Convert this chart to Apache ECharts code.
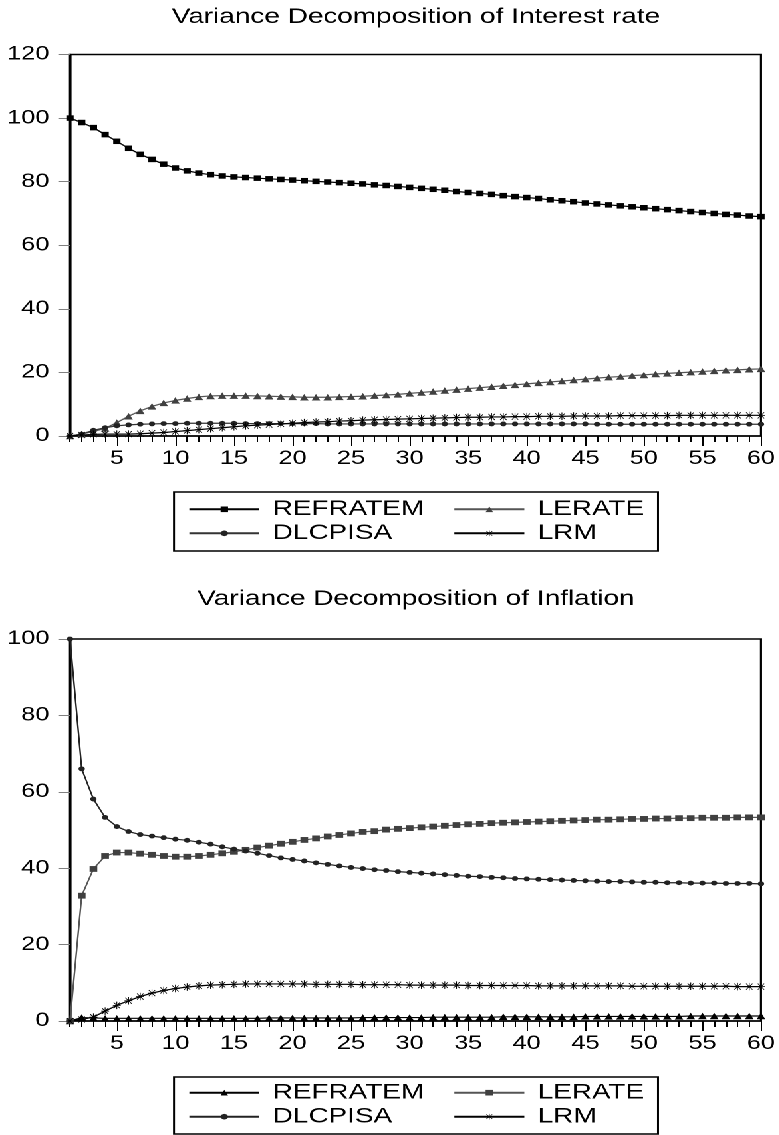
<!DOCTYPE html>
<html>
<head>
<meta charset="utf-8">
<script src="https://cdn.jsdelivr.net/npm/echarts@6/dist/echarts.min.js"></script>
<style>
html, body { margin: 0; padding: 0; background: #fff; overflow: hidden; }
/* the source picture is stretched sideways, so draw narrow and widen */
#wrap { width: 586px; height: 1135px; transform: scaleX(1.33); transform-origin: 0 0; }
#top { width: 586px; height: 570px; }
#bottom { width: 586px; height: 565px; }
</style>
</head>
<body>
<div id="wrap"><div id="top"></div><div id="bottom"></div></div>
<script>
const periods = ['1','2','3','4','5','6','7','8','9','10','11','12','13','14','15','16','17','18','19','20',
  '21','22','23','24','25','26','27','28','29','30','31','32','33','34','35','36','37','38','39','40',
  '41','42','43','44','45','46','47','48','49','50','51','52','53','54','55','56','57','58','59','60'];

// Variance Decomposition of Interest rate
const rateRefratem = [100, 98.6, 97.0, 94.8, 92.7, 90.5, 88.6, 87.0, 85.5, 84.3,
  83.4, 82.7, 82.2, 81.8, 81.5, 81.3, 81.1, 80.9, 80.7, 80.5,
  80.3, 80.1, 79.9, 79.7, 79.5, 79.3, 79.0, 78.8, 78.5, 78.2,
  77.9, 77.6, 77.3, 76.9, 76.6, 76.3, 76.0, 75.6, 75.3, 75.0,
  74.7, 74.3, 74.0, 73.7, 73.3, 73.0, 72.7, 72.4, 72.1, 71.8,
  71.5, 71.2, 70.9, 70.6, 70.3, 70.0, 69.7, 69.5, 69.2, 69.0];
const rateLerate = [0, 0.6, 1.4, 2.4, 4.2, 6.2, 7.9, 9.3, 10.4, 11.2,
  11.8, 12.3, 12.6, 12.7, 12.7, 12.7, 12.6, 12.5, 12.4, 12.3,
  12.2, 12.2, 12.2, 12.3, 12.4, 12.5, 12.7, 12.9, 13.1, 13.4,
  13.7, 14.0, 14.3, 14.6, 14.9, 15.2, 15.5, 15.8, 16.1, 16.4,
  16.7, 17.0, 17.3, 17.6, 17.9, 18.2, 18.5, 18.7, 19.0, 19.2,
  19.5, 19.7, 19.9, 20.1, 20.3, 20.5, 20.7, 20.8, 21.0, 21.1];
const rateDlcpisa = [0, 0.6, 1.8, 2.6, 3.2, 3.5, 3.7, 3.8, 3.9, 3.9,
  4.0, 4.0, 4.0, 4.0, 4.0, 3.9, 3.9, 3.9, 3.9, 3.9,
  3.9, 3.9, 3.8, 3.8, 3.8, 3.8, 3.8, 3.8, 3.8, 3.8,
  3.8, 3.8, 3.8, 3.8, 3.8, 3.8, 3.8, 3.8, 3.8, 3.8,
  3.8, 3.8, 3.8, 3.8, 3.8, 3.7, 3.7, 3.7, 3.7, 3.7,
  3.7, 3.7, 3.7, 3.7, 3.7, 3.7, 3.7, 3.7, 3.7, 3.7];
const rateLrm = [0, 0.3, 0.5, 0.6, 0.6, 0.6, 0.7, 0.9, 1.1, 1.4,
  1.7, 2.0, 2.3, 2.6, 2.9, 3.2, 3.4, 3.6, 3.8, 4.0,
  4.2, 4.4, 4.5, 4.7, 4.8, 5.0, 5.1, 5.2, 5.3, 5.4,
  5.5, 5.6, 5.7, 5.8, 5.9, 5.9, 6.0, 6.0, 6.1, 6.1,
  6.2, 6.2, 6.2, 6.3, 6.3, 6.3, 6.3, 6.4, 6.4, 6.4,
  6.4, 6.4, 6.5, 6.5, 6.5, 6.5, 6.5, 6.5, 6.5, 6.5];

// Variance Decomposition of Inflation
const inflRefratem = [0, 0.9, 0.8, 0.7, 0.7, 0.7, 0.7, 0.7, 0.7, 0.7,
  0.7, 0.7, 0.7, 0.7, 0.7, 0.7, 0.7, 0.8, 0.8, 0.8,
  0.8, 0.8, 0.8, 0.8, 0.8, 0.9, 0.9, 0.9, 0.9, 0.9,
  0.9, 1.0, 1.0, 1.0, 1.0, 1.0, 1.0, 1.1, 1.1, 1.1,
  1.1, 1.1, 1.1, 1.1, 1.2, 1.2, 1.2, 1.2, 1.2, 1.2,
  1.2, 1.2, 1.2, 1.3, 1.3, 1.3, 1.3, 1.3, 1.3, 1.3];
const inflLerate = [0, 32.8, 39.8, 43.2, 44.1, 44.1, 43.8, 43.5, 43.2, 43.0,
  43.0, 43.2, 43.5, 43.9, 44.3, 44.8, 45.4, 45.9, 46.4, 46.9,
  47.4, 47.8, 48.3, 48.7, 49.1, 49.5, 49.7, 50.1, 50.3, 50.5,
  50.7, 50.9, 51.1, 51.3, 51.5, 51.6, 51.8, 51.9, 52.0, 52.1,
  52.2, 52.3, 52.4, 52.5, 52.6, 52.7, 52.7, 52.8, 52.9, 52.9,
  53.0, 53.0, 53.1, 53.1, 53.2, 53.2, 53.2, 53.3, 53.3, 53.3];
const inflDlcpisa = [100, 66.0, 58.1, 53.3, 50.9, 49.6, 48.8, 48.4, 48.0, 47.6,
  47.3, 46.8, 46.3, 45.6, 45.0, 44.5, 43.9, 43.3, 42.7, 42.3,
  41.9, 41.4, 41.0, 40.6, 40.2, 39.9, 39.6, 39.4, 39.1, 38.9,
  38.7, 38.5, 38.3, 38.1, 37.9, 37.8, 37.6, 37.5, 37.3, 37.2,
  37.1, 37.0, 36.9, 36.8, 36.7, 36.6, 36.5, 36.5, 36.4, 36.3,
  36.3, 36.2, 36.2, 36.1, 36.1, 36.1, 36.0, 36.0, 36.0, 35.9];
const inflLrm = [0, 0.4, 1.0, 2.6, 4.1, 5.3, 6.4, 7.3, 8.0, 8.5,
  8.9, 9.2, 9.4, 9.5, 9.6, 9.7, 9.7, 9.7, 9.7, 9.7,
  9.7, 9.6, 9.6, 9.6, 9.6, 9.5, 9.5, 9.5, 9.5, 9.4,
  9.4, 9.4, 9.4, 9.4, 9.3, 9.3, 9.3, 9.3, 9.3, 9.3,
  9.2, 9.2, 9.2, 9.2, 9.2, 9.2, 9.2, 9.2, 9.1, 9.1,
  9.1, 9.1, 9.1, 9.1, 9.1, 9.1, 9.1, 9.0, 9.0, 9.0];

const SX = 1.33;            // horizontal stretch of the picture
const px = x => x / SX;     // picture x -> chart x
const FONT = '"Liberation Sans", Arial, sans-serif';
const STAR = 'path://M9 0L11 0L11 20L9 20Z M0 9L20 9L20 11L0 11Z M1.3 2.7L2.7 1.3L18.7 17.3L17.3 18.7Z M17.3 1.3L18.7 2.7L2.7 18.7L1.3 17.3Z';

const fifth = (i, v) => Number(v) % 5 === 0;

function makeSeries(name, data, symbol, size, color, lineColor) {
  return {
    type: 'line', name: name, data: data,
    xAxisIndex: 0, yAxisIndex: 0,
    symbol: symbol, symbolSize: size, showAllSymbol: true,
    itemStyle: { color: color },
    lineStyle: { color: lineColor || color, width: 1.2 },
    emphasis: { disabled: true },
    animation: false
  };
}

function drawChart(el, title, titleY, gridTop, gridH, yMax, legendTop, boxTop, boxH, series) {
  const chart = echarts.init(el, null, { devicePixelRatio: 2 });
  const legendCommon = {
    orient: 'vertical', top: legendTop, padding: 0,
    itemWidth: px(70), itemHeight: 7, itemGap: 0,
    selectedMode: false,
    textStyle: { fontSize: 21, fontFamily: FONT, color: '#000', lineHeight: 24, padding: [0, 0, 0, 5] }
  };
  chart.setOption({
    backgroundColor: '#fff',
    title: {
      text: title, left: px(416), top: titleY, padding: 0,
      textAlign: 'center', textVerticalAlign: 'middle',
      textStyle: { fontSize: 21, fontWeight: 'normal', color: '#000', fontFamily: FONT }
    },
    legend: [
      Object.assign({ left: px(188), data: [series[0].name, series[2].name] }, legendCommon),
      Object.assign({ left: px(453), data: [series[1].name, series[3].name] }, legendCommon)
    ],
    grid: {
      left: px(70), right: 586 - px(761), top: gridTop, height: gridH,
      show: true, borderColor: '#000', borderWidth: 1.6, backgroundColor: 'transparent',
      outerBoundsMode: 'none'
    },
    xAxis: [{
      type: 'category', data: periods, boundaryGap: false, position: 'bottom',
      axisLine: { show: true, onZero: false, lineStyle: { color: '#000', width: 1.6 } },
      axisTick: { show: true, interval: 0, length: 6, lineStyle: { color: '#000', width: 1 } },
      axisLabel: { interval: fifth, fontSize: 19, fontFamily: FONT, color: '#000', margin: 23, verticalAlign: 'middle' },
      splitLine: { show: false }
    }, {
      type: 'category', data: periods, boundaryGap: false, position: 'bottom',
      axisLine: { show: false, onZero: false },
      axisTick: { show: true, interval: fifth, length: 10, lineStyle: { color: '#000', width: 1 } },
      axisLabel: { show: false },
      splitLine: { show: false }
    }],
    yAxis: {
      type: 'value', min: 0, max: yMax, interval: 20,
      axisLine: { show: true, lineStyle: { color: '#000', width: 1.6 } },
      axisTick: { show: true, length: 8.8, lineStyle: { color: '#808080', width: 1 } },
      axisLabel: { fontSize: 19, fontFamily: FONT, color: '#000', margin: 15.6 },
      splitLine: { show: false }
    },
    graphic: [{
      type: 'rect', silent: true,
      shape: { x: px(174), y: boxTop, width: px(658) - px(174), height: boxH },
      style: { fill: 'none', stroke: '#000', lineWidth: 1.5 }
    }],
    series: series
  });
}

drawChart(document.getElementById('top'), 'Variance Decomposition of Interest rate',
  17, 54.5, 381.5, 120, 497.3, 492, 59, [
    makeSeries('REFRATEM', rateRefratem, 'rect', 5.5, '#000'),
    makeSeries('LERATE', rateLerate, 'triangle', 6.5, '#404040', '#555'),
    makeSeries('DLCPISA', rateDlcpisa, 'circle', 4.8, '#222', '#333'),
    makeSeries('LRM', rateLrm, STAR, [6, 7.5], '#000')
  ]);

drawChart(document.getElementById('bottom'), 'Variance Decomposition of Inflation',
  29, 69, 382, 100, 510.7, 507, 57, [
    makeSeries('REFRATEM', inflRefratem, 'triangle', 6.5, '#000'),
    makeSeries('LERATE', inflLerate, 'rect', 5.8, '#404040', '#555'),
    makeSeries('DLCPISA', inflDlcpisa, 'circle', 4.8, '#222', '#222'),
    makeSeries('LRM', inflLrm, STAR, [6, 7.5], '#000')
  ]);
</script>
</body>
</html>
